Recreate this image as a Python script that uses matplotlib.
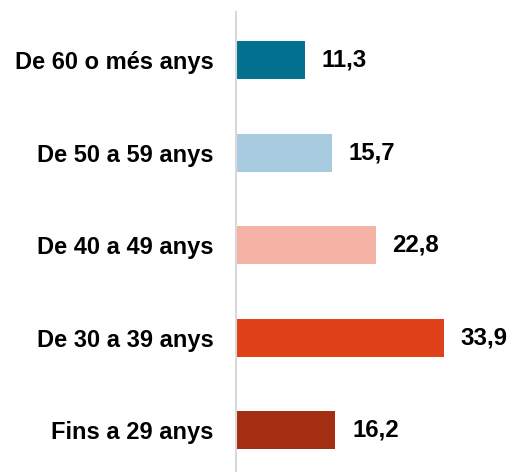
import matplotlib.pyplot as plt

categories = ['Fins a 29 anys', 'De 30 a 39 anys', 'De 40 a 49 anys',
              'De 50 a 59 anys', 'De 60 o més anys']
values = [16.2, 33.9, 22.8, 15.7, 11.3]
labels = ['16,2', '33,9', '22,8', '15,7', '11,3']
colors = ['#a32e12', '#df4218', '#f4b3a4', '#a8cbe0', '#02718f']

plt.rcParams['font.family'] = ['Liberation Sans', 'DejaVu Sans']

fig = plt.figure(figsize=(5.11, 4.72), dpi=100)
ax = fig.add_axes([236 / 511, 0, 1 - 236 / 511, 460 / 472])

pos = range(len(categories))
ax.barh(pos, values, height=0.41, color=colors)
for p, v, lab in zip(pos, values, labels):
    ax.text(v + 2.7, p, lab, va='center', ha='left', fontsize=17.3, fontweight='bold')

ax.set_xlim(0, 44.8)
ax.set_ylim(-0.45, 4.52)
ax.set_yticks(list(pos))
ax.set_yticklabels(categories, fontsize=17, fontweight='bold')
ax.tick_params(axis='y', length=0, pad=16)
ax.set_xticks([])

for s in ['top', 'right', 'bottom']:
    ax.spines[s].set_visible(False)
ax.spines['left'].set_color('#d9d9d9')
ax.spines['left'].set_linewidth(1.5)

fig.savefig('out.png', dpi=100)
